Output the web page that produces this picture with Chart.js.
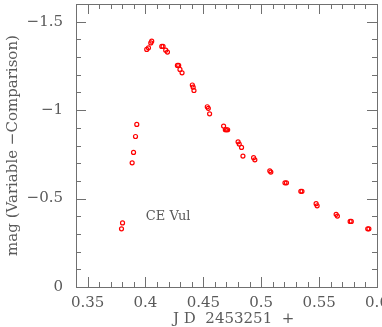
<!DOCTYPE html>
<html>
<head>
<meta charset="utf-8">
<script src="https://cdn.jsdelivr.net/npm/chart.js@4.4.0/dist/chart.umd.min.js"></script>
<style>
  html, body { margin: 0; padding: 0; background: #fff; }
  #wrap { width: 382px; height: 327px; }
</style>
</head>
<body>
<div id="wrap"><canvas id="myChart" width="382" height="327"></canvas></div>
<script>
// light curve of CE Vul, JD 2453251 + fraction
var jdFrac = [0.3793, 0.3802, 0.3885, 0.3897, 0.3914, 0.3925,
  0.4011, 0.4026, 0.4046, 0.4054, 0.4141, 0.4152, 0.4175, 0.4190,
  0.4276, 0.4287, 0.4298, 0.4316, 0.4405, 0.4412, 0.4419,
  0.4534, 0.4543, 0.4554, 0.4675, 0.4690, 0.4700, 0.4710,
  0.4800, 0.4810, 0.4830, 0.4842, 0.4934, 0.4945, 0.5074, 0.5083,
  0.5205, 0.5218, 0.5342, 0.5352, 0.5474, 0.5483, 0.5647, 0.5658,
  0.5768, 0.5778, 0.5920, 0.5930];
var dMag = [-0.329, -0.362, -0.702, -0.761, -0.851, -0.919,
  -1.343, -1.352, -1.380, -1.390, -1.360, -1.360, -1.339, -1.328,
  -1.253, -1.253, -1.230, -1.211, -1.142, -1.130, -1.111,
  -1.019, -1.010, -0.979, -0.910, -0.889, -0.889, -0.889,
  -0.821, -0.808, -0.789, -0.740, -0.731, -0.719, -0.657, -0.650,
  -0.589, -0.589, -0.541, -0.541, -0.471, -0.459, -0.411, -0.401,
  -0.371, -0.371, -0.329, -0.329];
var xTicks = [0.35, 0.4, 0.45, 0.5, 0.55, 0.6];
var yTicks = [0, -0.5, -1, -1.5];
var starName = "CE Vul";

var axisGrey = "#707070";
var textGrey = "#5a5a5a";
var serif = "'DejaVu Serif', 'Liberation Serif', serif";

var points = jdFrac.map(function(x, i) { return {x: x, y: dMag[i]}; });

function fmt(v) {
  if (v === 0) return "0";
  return (v < 0 ? "\u2212" : "") + String(Math.abs(v));
}

// frame + inward ticks on all four sides, PGPLOT style
var frameTicks = {
  id: "frameTicks",
  afterDraw: function(chart) {
    var ctx = chart.ctx, a = chart.chartArea;
    var xs = chart.scales.x, ys = chart.scales.y;
    ctx.save();
    ctx.strokeStyle = axisGrey;
    ctx.lineWidth = 1;
    ctx.strokeRect(Math.round(a.left) + 0.5, Math.round(a.top) + 0.5,
      Math.round(a.right - a.left), Math.round(a.bottom - a.top));
    ctx.beginPath();
    var i, v, p, len;
    for (i = 34; i <= 60; i++) {
      v = i / 100;
      p = Math.round(xs.getPixelForValue(v)) + 0.5;
      len = (i % 5 === 0) ? 10 : 5;
      ctx.moveTo(p, a.bottom); ctx.lineTo(p, a.bottom - len);
      ctx.moveTo(p, a.top); ctx.lineTo(p, a.top + len);
    }
    for (i = 0; i <= 16; i++) {
      v = -i / 10;
      p = Math.round(ys.getPixelForValue(v)) + 0.5;
      len = (i % 5 === 0) ? 10 : 5;
      ctx.moveTo(a.left, p); ctx.lineTo(a.left + len, p);
      ctx.moveTo(a.right, p); ctx.lineTo(a.right - len, p);
    }
    ctx.stroke();
    // star label
    ctx.fillStyle = textGrey;
    ctx.font = "13px " + serif;
    ctx.textBaseline = "middle";
    ctx.textAlign = "left";
    ctx.fillText(starName, xs.getPixelForValue(0.4003), ys.getPixelForValue(-0.40));
    ctx.restore();
  }
};

new Chart("myChart", {
  type: "scatter",
  data: {
    datasets: [{
      data: points,
      borderColor: "#ff0000",
      backgroundColor: "rgba(255,255,255,0)",
      pointRadius: 2,
      pointBorderWidth: 1.2,
      pointHoverRadius: 2
    }]
  },
  options: {
    responsive: false,
    animation: false,
    layout: { padding: { top: 4, right: 5, left: 0, bottom: 0 } },
    plugins: { legend: { display: false }, tooltip: { enabled: false } },
    scales: {
      x: {
        type: "linear",
        min: 0.34,
        max: 0.6,
        afterBuildTicks: function(s) { s.ticks = xTicks.map(function(v) { return {value: v}; }); },
        afterFit: function(s) { s.height = 40; s.paddingLeft = 0; s.paddingRight = 0; },
        grid: { display: false, drawTicks: false },
        border: { display: false },
        ticks: {
          color: textGrey,
          font: { family: serif, size: 15 },
          padding: 7,
          maxRotation: 0,
          autoSkip: false,
          callback: function(v) { return String(v); }
        },
        title: {
          display: true,
          text: "   J D  2453251  +",
          color: textGrey,
          font: { family: serif, size: 15, lineHeight: 1 },
          padding: { top: 0, bottom: 0 }
        }
      },
      y: {
        type: "linear",
        min: -1.6,
        max: 0,
        reverse: true,
        afterBuildTicks: function(s) { s.ticks = yTicks.map(function(v) { return {value: v}; }); },
        afterFit: function(s) { s.width = 76; s.paddingTop = 0; s.paddingBottom = 0; },
        grid: { display: false, drawTicks: false },
        border: { display: false },
        ticks: {
          color: textGrey,
          font: { family: serif, size: 15 },
          padding: 13,
          autoSkip: false,
          callback: function(v) { return fmt(v); }
        },
        title: {
          display: true,
          text: "mag (Variable \u2212Comparison)",
          color: textGrey,
          font: { family: serif, size: 15, lineHeight: 1 },
          padding: { top: 6, bottom: 0 }
        }
      }
    }
  },
  plugins: [frameTicks]
});
</script>
</body>
</html>
